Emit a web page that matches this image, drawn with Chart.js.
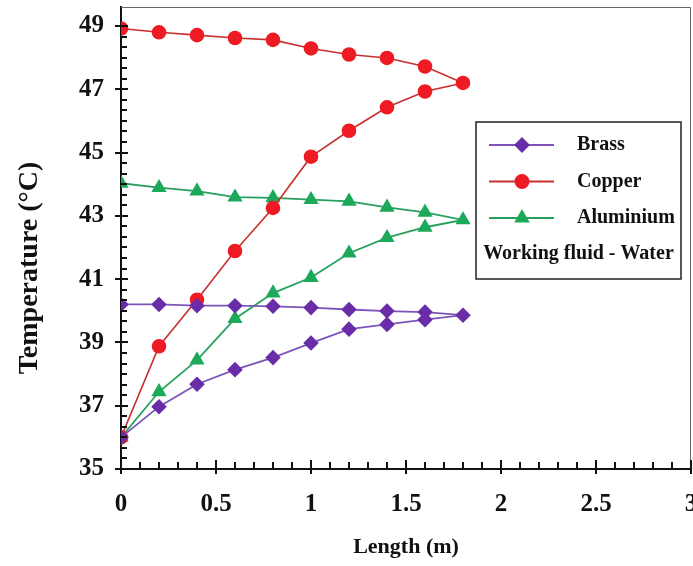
<!DOCTYPE html>
<html>
<head>
<meta charset="utf-8">
<script src="https://cdn.jsdelivr.net/npm/chart.js@4.4.1/dist/chart.umd.min.js"></script>
<style>
  html, body { margin: 0; padding: 0; background: #fff; }
  #wrap { width: 693px; height: 566px; position: relative; }
</style>
</head>
<body>
<div id="wrap"><canvas id="tempChart"></canvas></div>
<script>
// length positions along the pipe (m)
const lengths = [0, 0.2, 0.4, 0.6, 0.8, 1.0, 1.2, 1.4, 1.6, 1.8];

// lower branch (rising) and upper branch (falling) for each material
const brassLow = [36.0, 36.97, 37.68, 38.14, 38.52, 38.98, 39.42, 39.57, 39.72, 39.86];
const brassHigh = [40.2, 40.2, 40.16, 40.16, 40.14, 40.1, 40.04, 39.99, 39.96, 39.86];
const copperLow = [36.0, 38.88, 40.35, 41.89, 43.25, 44.87, 45.69, 46.43, 46.93, 47.2];
const copperHigh = [48.92, 48.8, 48.71, 48.62, 48.56, 48.29, 48.1, 47.99, 47.72, 47.2];
const aluLow = [36.0, 37.44, 38.44, 39.75, 40.56, 41.05, 41.82, 42.31, 42.64, 42.87];
const aluHigh = [44.03, 43.89, 43.78, 43.59, 43.57, 43.51, 43.46, 43.27, 43.11, 42.87];

const seriesNames = ["Brass", "Copper", "Aluminium"];
const noteText = "Working fluid - Water";
const yTitle = "Temperature (°C)";
const xTicks = [0, 0.5, 1, 1.5, 2, 2.5, 3];
const yTicks = [35, 37, 39, 41, 43, 45, 47, 49];

// go out along the low branch, come back along the high one
function loop(low, high) {
  const pts = lengths.map((x, i) => ({ x, y: low[i] }));
  for (let i = lengths.length - 2; i >= 0; i--) pts.push({ x: lengths[i], y: high[i] });
  return pts;
}

const serif = "'Liberation Serif', 'DejaVu Serif', serif";

// inward ticks + top/right frame, like the original plot
const frameTicks = {
  id: "frameTicks",
  afterDraw(chart) {
    const { ctx, chartArea: a, scales: { x, y } } = chart;
    ctx.save();
    ctx.strokeStyle = "#666";
    ctx.lineWidth = 1;
    ctx.beginPath();
    ctx.moveTo(a.left, a.top + 0.5);
    ctx.lineTo(a.right - 0.5, a.top + 0.5);
    ctx.lineTo(a.right - 0.5, a.bottom);
    ctx.stroke();

    ctx.strokeStyle = "#111";
    ctx.lineWidth = 2;
    ctx.beginPath();
    for (let v = 0; v <= 3.0001; v += 0.1) {
      const px = Math.round(x.getPixelForValue(v));
      const major = Math.abs(v * 2 - Math.round(v * 2)) < 1e-6;
      ctx.moveTo(px, a.bottom - (major ? 9 : 7));
      ctx.lineTo(px, a.bottom + (major ? 5 : 0));
    }
    for (let k = 0; k <= 42; k++) {
      const v = 35 + k / 3;
      if (v > y.max) break;
      const py = Math.round(y.getPixelForValue(v));
      const major = k % 6 === 0;
      ctx.moveTo(a.left - (major ? 6 : 0), py);
      ctx.lineTo(a.left + (major ? 7 : 6), py);
    }
    ctx.stroke();

    // y title sits a bit below the middle in the original
    ctx.translate(30, (a.top + a.bottom) / 2 + 30);
    ctx.rotate(-Math.PI / 2);
    ctx.fillStyle = "#111";
    ctx.font = "bold 28px " + serif;
    ctx.textAlign = "center";
    ctx.textBaseline = "middle";
    ctx.fillText(yTitle, 0, 0);
    ctx.restore();
  }
};

// boxed legend sitting inside the plot
const boxLegend = {
  id: "boxLegend",
  afterDraw(chart) {
    const { ctx, chartArea: a } = chart;
    const left = a.left + 355, top = a.top + 115, w = 205, h = 157;
    ctx.save();
    ctx.fillStyle = "#fff";
    ctx.fillRect(left, top, w, h);
    ctx.strokeStyle = "#222";
    ctx.lineWidth = 1.5;
    ctx.strokeRect(left, top, w, h);

    ctx.font = "bold 20px " + serif;
    ctx.textBaseline = "middle";
    chart.data.datasets.forEach((ds, i) => {
      const cy = top + 23 + i * 36.5;
      ctx.strokeStyle = ds.borderColor;
      ctx.lineWidth = 2;
      ctx.beginPath();
      ctx.moveTo(left + 13, cy);
      ctx.lineTo(left + 78, cy);
      ctx.stroke();
      ctx.fillStyle = ds.pointBackgroundColor;
      ctx.strokeStyle = ds.pointBackgroundColor;
      Chart.helpers.drawPoint(ctx, { pointStyle: ds.pointStyle, radius: ds.pointRadius, rotation: 0, borderWidth: 1 }, left + 46, cy);
      ctx.fillStyle = "#111";
      ctx.textAlign = "left";
      ctx.fillText(ds.label, left + 101, cy);
    });
    ctx.textAlign = "center";
    ctx.fillText(noteText, left + w / 2, top + 132);
    ctx.restore();
  }
};

const ctx = document.getElementById("tempChart");

new Chart(ctx, {
  type: "scatter",
  data: {
    datasets: [
      {
        label: seriesNames[0],
        data: loop(brassLow, brassHigh),
        showLine: true,
        borderColor: "#7d55b8",
        borderWidth: 1.8,
        pointStyle: "rectRot",
        pointRadius: 6.5,
        pointBackgroundColor: "#6a2da8",
        pointBorderColor: "#6a2da8"
      },
      {
        label: seriesNames[1],
        data: loop(copperLow, copperHigh),
        showLine: true,
        borderColor: "#c8302e",
        borderWidth: 1.6,
        pointStyle: "circle",
        pointRadius: 6.5,
        pointBackgroundColor: "#ee1b24",
        pointBorderColor: "#ee1b24"
      },
      {
        label: seriesNames[2],
        data: loop(aluLow, aluHigh),
        showLine: true,
        borderColor: "#27a05e",
        borderWidth: 1.8,
        pointStyle: "triangle",
        pointRadius: 7,
        pointBackgroundColor: "#1da95a",
        pointBorderColor: "#1da95a"
      }
    ]
  },
  options: {
    responsive: true,
    maintainAspectRatio: false,
    animation: false,
    layout: { autoPadding: false, padding: { top: 7, right: 2, left: 0, bottom: 5 } },
    plugins: {
      legend: { display: false },
      tooltip: { enabled: false }
    },
    scales: {
      x: {
        type: "linear",
        min: 0,
        max: 3,
        afterBuildTicks: s => { s.ticks = xTicks.map(v => ({ value: v })); },
        afterFit: s => { s.paddingRight = 0; s.paddingLeft = 0; s.height = 92; },
        grid: { display: false, drawTicks: false },
        border: { display: true, color: "#111", width: 2 },
        ticks: {
          padding: 21,
          color: "#111",
          font: { family: serif, size: 25, weight: "bold" },
          callback: v => String(v)
        },
        title: {
          display: true,
          text: "Length (m)",
          color: "#111",
          font: { family: serif, size: 22, weight: "bold" },
          padding: { top: 0, bottom: 0 }
        }
      },
      y: {
        type: "linear",
        min: 35,
        max: 49.6,
        afterBuildTicks: s => { s.ticks = yTicks.map(v => ({ value: v })); },
        afterFit: s => { s.width = 121; s.paddingTop = 0; s.paddingBottom = 0; },
        grid: { display: false, drawTicks: false },
        border: { display: true, color: "#111", width: 2 },
        ticks: {
          padding: 17,
          color: "#111",
          font: { family: serif, size: 25, weight: "bold" },
          callback: v => String(v)
        },
        title: { display: false }
      }
    }
  },
  plugins: [frameTicks, boxLegend]
});
</script>
</body>
</html>
